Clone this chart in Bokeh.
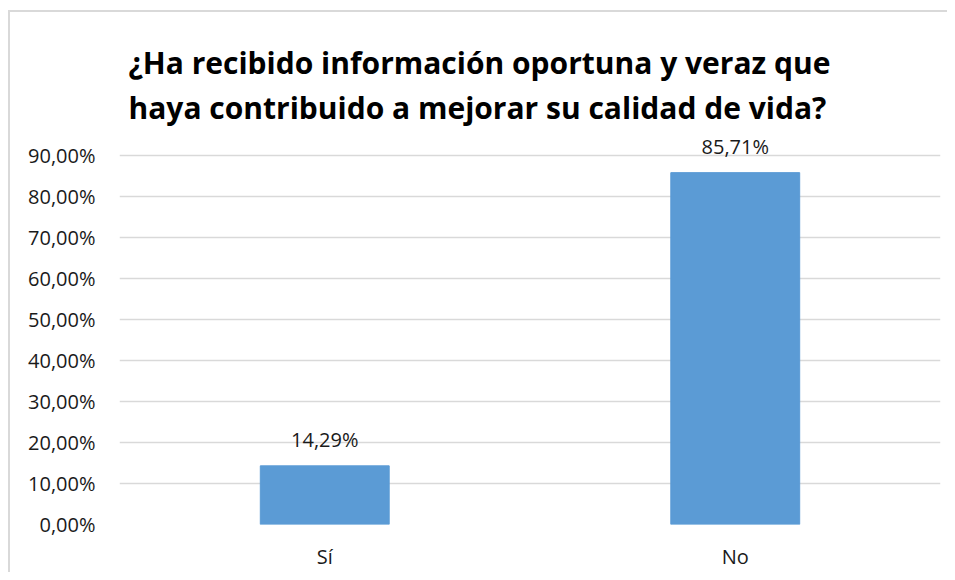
from bokeh.plotting import figure
from bokeh.models import ColumnDataSource, FixedTicker, Range1d
from bokeh.core.properties import value
from bokeh.embed import file_html
from bokeh.resources import INLINE

categories = ["Sí", "No"]
values = [14.29, 85.71]
value_labels = ["14,29%", "85,71%"]
tick_values = [0, 10, 20, 30, 40, 50, 60, 70, 80, 90]
tick_labels = ["0,00%", "10,00%", "20,00%", "30,00%", "40,00%", "50,00%",
               "60,00%", "70,00%", "80,00%", "90,00%"]

FONT = "Open Sans"

src = ColumnDataSource(dict(cat=categories, val=values, lab=value_labels))

p = figure(width=947, height=572, x_range=categories, y_range=Range1d(0, 95),
           output_backend="svg", toolbar_location=None,
           min_border_left=119, min_border_right=7, min_border_top=134,
           min_border_bottom=47)

p.title.text = "¿Ha recibido información oportuna y veraz que\nhaya contribuido a mejorar su calidad de vida?"
p.title.text_font = "Open Sans"
p.title.text_font_style = "bold"
p.title.text_font_size = "30px"
p.title.align = "left"
p.title.offset = 9
p.title.text_color = "#000000"
p.title.text_line_height = 1.1
p.title.standoff = 13

p.vbar(x="cat", top="val", width=0.314, source=src, color="#5B9BD5")
p.text(x="cat", y="val", text="lab", source=src, text_align="center",
       text_baseline="bottom", y_offset=-13, text_font=value(FONT),
       text_font_size="20px", text_color="#1a1a1a")

p.yaxis.ticker = FixedTicker(ticks=tick_values)
p.yaxis.major_label_overrides = {t: l for t, l in zip(tick_values, tick_labels)}
for ax in (p.xaxis, p.yaxis):
    ax.axis_line_color = None
    ax.major_tick_line_color = None
    ax.minor_tick_line_color = None
    ax.major_label_text_font = FONT
    ax.major_label_text_font_size = "20px"
    ax.major_label_text_color = "#1a1a1a"
p.yaxis.major_label_standoff = 18
p.xaxis.major_label_standoff = 12

p.xgrid.grid_line_color = None
p.ygrid.grid_line_color = "#d9d9d9"
p.ygrid.grid_line_width = 1.5
p.x_range.range_padding = 0.0
p.outline_line_color = None
p.border_fill_color = None
p.background_fill_color = None
p.styles = {
    "background": "linear-gradient(#d9d9d9, #d9d9d9) 8px 10px / 2px 100% no-repeat, "
                  "linear-gradient(#d9d9d9, #d9d9d9) 8px 10px / 100% 2px no-repeat, #ffffff"
}

open("out.html", "w").write(file_html(p, INLINE))
